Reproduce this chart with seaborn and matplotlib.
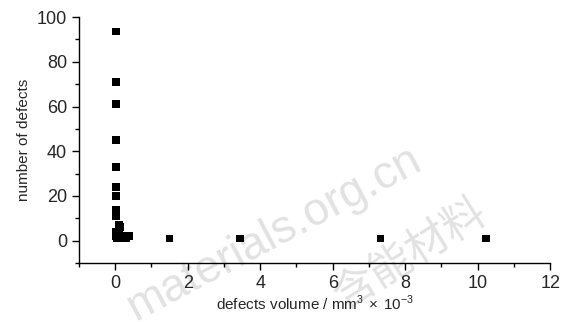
import numpy as np
import pandas as pd
import matplotlib
matplotlib.use('Agg')
import matplotlib.pyplot as plt
import seaborn as sns
from matplotlib.ticker import MultipleLocator

# defects volume (mm^3 x 10^-3) and number of defects
volume = [0.02, 0.02, 0.02, 0.02, 0.02, 0.02, 0.02, 0.02, 0.02, 0.02,
          0.10, 0.15, 0.02, 0.02, 0.10, 0.02, 0.20, 0.28, 0.38, 0.05,
          0.15, 0.30, 1.50, 3.45, 7.32, 10.22]
n_defects = [93.5, 71, 61, 45, 33, 24, 20, 14, 12, 11,
             7, 6, 4, 3, 3, 2, 2, 2, 2, 1,
             1, 1, 1, 1, 1, 1]

df = pd.DataFrame({'volume': volume, 'n': n_defects})

sns.set_style('ticks')
plt.rcParams['font.family'] = ['Liberation Sans', 'DejaVu Sans']
plt.rcParams['mathtext.fontset'] = 'custom'
plt.rcParams['mathtext.rm'] = 'Liberation Sans'

fig = plt.figure(figsize=(5.72, 3.22), dpi=100)
ax = fig.add_axes([0.138, 0.183, 0.824, 0.764])

# watermark, under the axes
fig.text(0.74, 0.48, 'materials.org.cn', fontsize=33, color='#e2e2e2',
         rotation=28, rotation_mode='anchor', ha='right', va='baseline', zorder=-1)
fig.text(0.845, 0.35, '含能材料', fontsize=31, color='#e2e2e2', rotation=32,
         rotation_mode='anchor', ha='right', va='center', zorder=-1,
         family=['Noto Sans CJK SC', 'DejaVu Sans'])
ax.patch.set_alpha(0)

sns.scatterplot(data=df, x='volume', y='n', marker='s', s=30, color='black',
                edgecolor='none', ax=ax, zorder=3)

ax.set_xlim(-1, 12)
ax.set_ylim(-10, 100)
ax.xaxis.set_major_locator(MultipleLocator(2))
ax.xaxis.set_minor_locator(MultipleLocator(1))
ax.yaxis.set_major_locator(MultipleLocator(20))
ax.yaxis.set_minor_locator(MultipleLocator(10))
ax.tick_params(which='major', direction='out', length=5, width=1, labelsize=13, color='black')
ax.tick_params(which='minor', direction='out', length=3, width=1, color='black')
ax.set_yticks([0, 20, 40, 60, 80, 100])
for s in ['top', 'right']:
    ax.spines[s].set_visible(False)
for s in ['left', 'bottom']:
    ax.spines[s].set_linewidth(1)
    ax.spines[s].set_color('black')

ax.set_xlabel(r'defects volume / mm$^{3}\,\times\,$10$^{-3}$', fontsize=11, labelpad=1)
ax.set_ylabel('number of defects', fontsize=11, labelpad=4)

fig.savefig('out.png', dpi=100)
